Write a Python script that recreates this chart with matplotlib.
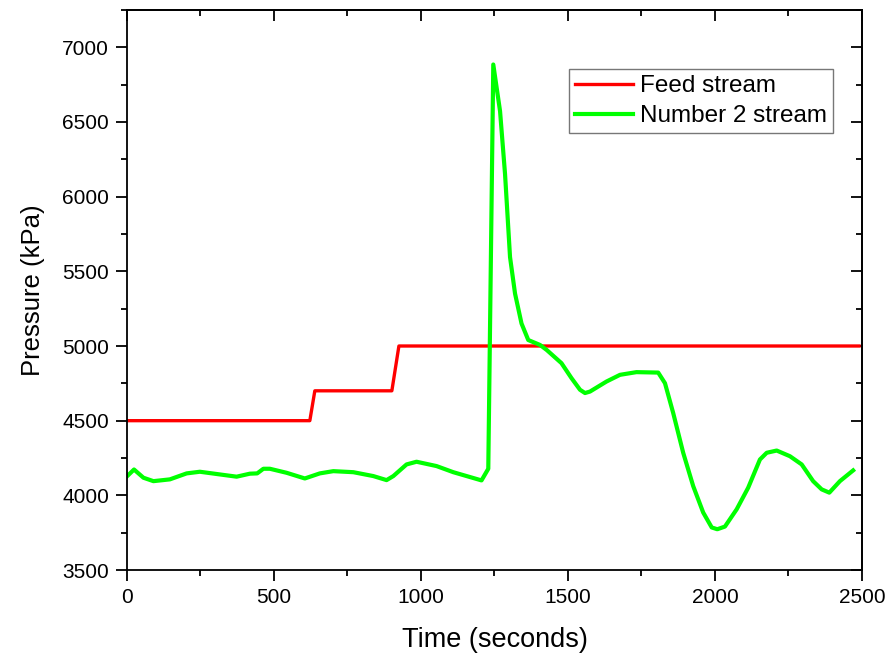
import numpy as np
import matplotlib
matplotlib.use('Agg')
import matplotlib.pyplot as plt
from matplotlib.ticker import MultipleLocator

# feed stream pressure (step changes)
feed_t = [0, 622, 639, 901, 925, 2490]
feed_p = [4500, 4500, 4700, 4700, 5000, 5000]

# number 2 stream pressure
s2_t = [1, 24, 56, 90, 146, 203, 248, 316, 373, 418, 443, 464, 486, 543, 605,
        656, 702, 770, 838, 883, 906, 951, 985, 1053, 1110, 1206, 1229, 1246,
        1269, 1286, 1303, 1320, 1342, 1365, 1405, 1428, 1478, 1512, 1541, 1558,
        1575, 1631, 1677, 1733, 1807, 1830, 1858, 1892, 1926, 1960, 1989, 2008,
        2034, 2074, 2113, 2153, 2176, 2210, 2255, 2295, 2334, 2363, 2389, 2425,
        2470]
s2_p = [4129, 4173, 4118, 4095, 4107, 4147, 4158, 4140, 4125, 4145, 4147, 4178,
        4178, 4151, 4113, 4147, 4162, 4155, 4129, 4102, 4129, 4207, 4225, 4196,
        4155, 4100, 4178, 6885, 6573, 6151, 5595, 5351, 5151, 5040, 5007, 4973,
        4885, 4785, 4707, 4685, 4695, 4762, 4807, 4825, 4822, 4751, 4551, 4285,
        4062, 3885, 3785, 3773, 3791, 3907, 4051, 4240, 4285, 4300, 4262, 4207,
        4095, 4040, 4018, 4095, 4167]

font = ['Liberation Sans', 'DejaVu Sans']

fig = plt.figure(figsize=(8.96, 6.57), dpi=100)
ax = fig.add_axes([0.1417, 0.1324, 0.8203, 0.8524])

ax.plot(feed_t, feed_p, color='#ff0000', lw=2.4, label='Feed stream')
ax.plot(s2_t, s2_p, color='#00ff00', lw=3.0, label='Number 2 stream')

ax.set_xlim(0, 2500)
ax.set_ylim(3500, 7250)
ax.xaxis.set_major_locator(MultipleLocator(500))
ax.xaxis.set_minor_locator(MultipleLocator(250))
ax.yaxis.set_major_locator(MultipleLocator(500))
ax.yaxis.set_minor_locator(MultipleLocator(250))
ax.tick_params(which='major', direction='out', length=8, width=1.3, pad=5)
ax.tick_params(which='minor', direction='out', length=4.5, width=1.3)
for lbl in ax.get_xticklabels() + ax.get_yticklabels():
    lbl.set_family(font)
    lbl.set_fontsize(15)
for sp in ax.spines.values():
    sp.set_linewidth(1.3)

# mirrored ticks on top and right, pointing in
top = ax.secondary_xaxis('top')
top.xaxis.set_major_locator(MultipleLocator(500))
top.xaxis.set_minor_locator(MultipleLocator(250))
top.tick_params(which='major', direction='in', length=8, width=1.3, labeltop=False)
top.tick_params(which='minor', direction='in', length=4.5, width=1.3)
right = ax.secondary_yaxis('right')
right.yaxis.set_major_locator(MultipleLocator(500))
right.yaxis.set_minor_locator(MultipleLocator(250))
right.tick_params(which='major', direction='in', length=8, width=1.3, labelright=False)
right.tick_params(which='minor', direction='in', length=4.5, width=1.3)
top.spines['top'].set_linewidth(1.3)
right.spines['right'].set_linewidth(1.3)

ax.set_xlabel('Time (seconds)', fontsize=19.5, family=font, labelpad=14)
ax.set_ylabel('Pressure (kPa)', fontsize=18.5, family=font, labelpad=12)

leg = ax.legend(loc='upper right', bbox_to_anchor=(0.9605, 0.8946),
                prop={'family': font, 'size': 17.5}, frameon=True, fancybox=False,
                borderaxespad=0, handlelength=2.35, borderpad=0.25,
                labelspacing=0.33, handletextpad=0.3)
leg.get_frame().set_edgecolor('#555555')
leg.get_frame().set_linewidth(1.0)

fig.savefig('out.png', dpi=100)
